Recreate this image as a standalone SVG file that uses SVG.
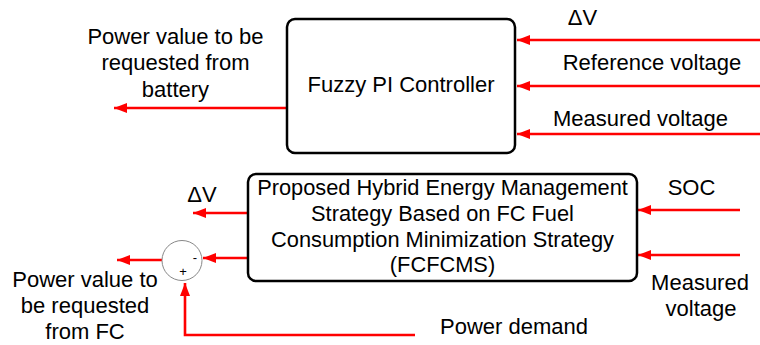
<svg xmlns="http://www.w3.org/2000/svg" width="760" height="345" viewBox="0 0 760 345">
<style>
text{font-family:"Liberation Sans",Arial,sans-serif;fill:#000;text-anchor:middle}
.lbl{font-size:22px}
.bt{font-size:21.8px}
.box{fill:#fff;stroke:#000;stroke-width:2.5}
.wire{fill:none;stroke:#ff0000;stroke-width:2.6}
.arr{marker-end:url(#ah)}
</style>
<defs>
<marker id="ah" markerUnits="userSpaceOnUse" markerWidth="14" markerHeight="10" refX="13" refY="5" orient="auto" viewBox="0 0 14 10">
<path d="M0,0 L13,5 L0,10 Z" fill="#ff0000"/>
</marker>
</defs>
<g id="connectors">
<path class="wire arr" d="M760,40 L517,40"/>
<path class="wire arr" d="M760,86 L517,86"/>
<path class="wire arr" d="M760,134 L517,134"/>
<path class="wire arr" d="M287,108 L114,108"/>
<path class="wire arr" d="M740,210 L638,210"/>
<path class="wire arr" d="M740,255 L638,255"/>
<path class="wire arr" d="M248,213 L193,213"/>
<path class="wire arr" d="M248,258 L203,258"/>
<path class="wire arr" d="M162,260 L117,260"/>
<path class="wire arr" d="M415,335 L185,335 L185,283"/>
</g>
<g id="fuzzy">
<rect class="box" x="287" y="19" width="228" height="134" rx="8"/>
<text class="lbl" x="401" y="92">Fuzzy PI Controller</text>
</g>
<g id="fcfcms">
<rect class="box" x="248" y="174" width="389" height="107" rx="8"/>
<text class="bt" x="442.5" y="195">Proposed Hybrid Energy Management</text>
<text class="bt" x="442.5" y="221">Strategy Based on FC Fuel</text>
<text class="bt" x="442.5" y="247">Consumption Minimization Strategy</text>
<text class="bt" x="442.5" y="272">(FCFCMS)</text>
</g>
<g id="sum">
<circle cx="182" cy="260.5" r="20" fill="#fff" stroke="#888" stroke-width="1"/>
<text x="195" y="262" font-size="13">-</text>
<text x="183" y="276" font-size="13">+</text>
</g>
<g id="labels">
<text class="lbl" x="582.5" y="25">ΔV</text>
<text class="lbl" x="652" y="70">Reference voltage</text>
<text class="lbl" x="640.5" y="126">Measured voltage</text>
<text class="lbl" x="175.5" y="44">Power value to be</text>
<text class="lbl" x="175.5" y="70">requested from</text>
<text class="lbl" x="175.5" y="97">battery</text>
<text class="lbl" x="202" y="202">ΔV</text>
<text class="lbl" x="691.5" y="195">SOC</text>
<text class="lbl" x="700" y="290">Measured</text>
<text class="lbl" x="701" y="316">voltage</text>
<text class="lbl" x="514" y="334" font-size="21.5">Power demand</text>
<text class="lbl" x="85" y="287">Power value to</text>
<text class="lbl" x="85" y="313">be requested</text>
<text class="lbl" x="85" y="339">from FC</text>
</g>
</svg>
